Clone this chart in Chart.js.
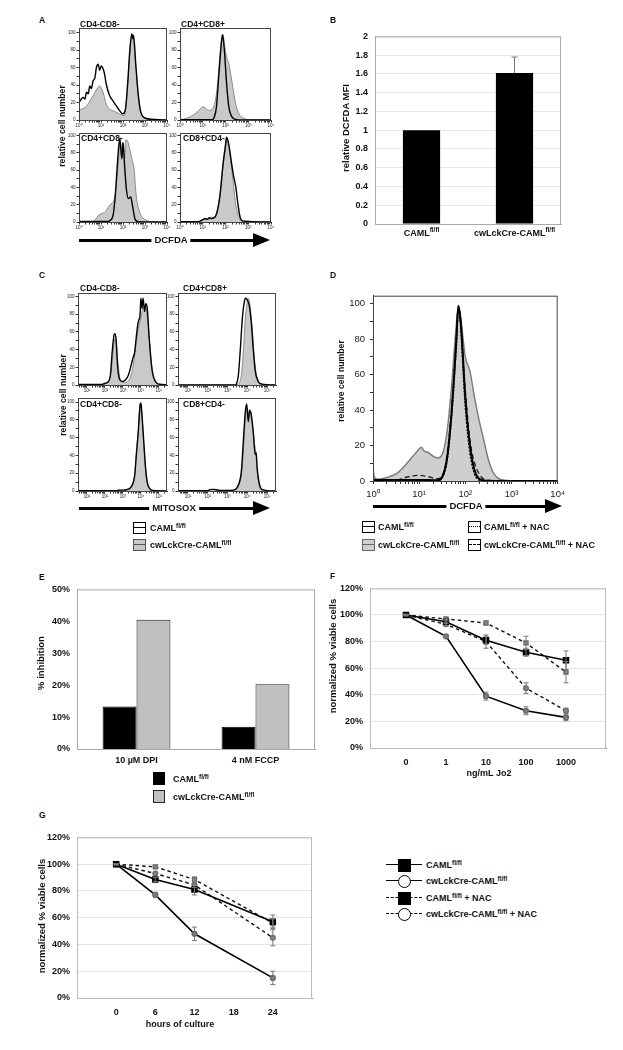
<!DOCTYPE html>
<html>
<head>
<meta charset="utf-8">
<script src="https://cdn.jsdelivr.net/npm/chart.js@4.4.0/dist/chart.umd.min.js"></script>
<style>
html, body { margin: 0; padding: 0; background: #fff; }
body { position: relative; width: 623px; height: 1050px; overflow: hidden; font-family: "Liberation Sans", Arial, sans-serif; }
.lbl { position: absolute; white-space: nowrap; font-weight: bold; line-height: 1; color: #111; }
.lbl sup { font-size: 0.72em; vertical-align: 0; position: relative; top: -0.45em; }
.abs { position: absolute; box-sizing: border-box; }
</style>
</head>
<body>
<script>
const FONT = '"Liberation Sans", Arial, sans-serif';
Chart.defaults.font.family = FONT;
Chart.defaults.color = '#111';
Chart.defaults.plugins.legend.display = false;
Chart.defaults.plugins.tooltip.enabled = false;

// ---- data: histograms, [log10 decade, relative cell number] ----
// A  DCFDA
const aDnWt  = [[0,20],[0.19,26],[0.27,24],[0.34,32],[0.42,30],[0.49,39],[0.56,36],[0.64,45],[0.72,48],[0.79,60],[0.87,64],[0.94,57],[1.01,62],[1.09,59],[1.16,53],[1.24,41],[1.39,28],[1.54,22],[1.69,16.5],[1.84,11],[1.99,7],[2.1,11],[2.21,41],[2.31,80],[2.4,99],[2.45,93],[2.48,97],[2.58,64],[2.69,30],[2.81,9],[3.03,2],[3.48,0.5],[4,0]];
const aDnKo  = [[0,11],[0.34,16],[0.5,22],[0.64,28],[0.87,37.5],[0.94,39],[1.09,32],[1.24,18],[1.39,12.6],[1.61,10],[1.84,7],[2.06,5],[2.13,14.5],[2.21,37.5],[2.31,76],[2.4,97],[2.48,91],[2.55,72],[2.66,37.5],[2.76,14.5],[2.88,5],[3.03,2],[3.33,0.5],[4,0]];
const aDpWt  = [[0,0.3],[1.4,0.3],[1.5,3],[1.6,14.5],[1.7,49],[1.8,83],[1.87,98],[1.95,80],[2.05,41],[2.15,14.5],[2.25,5],[2.4,1],[2.6,0],[4,0]];
const aDpKo  = [[0,0.5],[0.3,2],[0.6,6],[0.8,10],[1.0,15],[1.1,14],[1.25,11],[1.4,12],[1.55,22],[1.65,41],[1.75,72],[1.85,95],[1.9,97],[1.95,87],[2.05,72],[2.15,64],[2.3,41],[2.45,18],[2.6,7],[2.8,2],[3.0,0.5],[4,0]];
const aCd4Wt = [[0,0.5],[1.3,0.5],[1.4,1.5],[1.55,8],[1.65,31],[1.75,69],[1.85,96],[1.95,73],[2.0,92],[2.08,62],[2.15,39],[2.25,27],[2.35,29],[2.45,16],[2.55,3],[2.7,0.4],[4,0]];
const aCd4Ko = [[0,0.5],[0.6,0.5],[0.75,3],[0.9,8],[1.05,10],[1.2,12],[1.35,18],[1.5,22],[1.6,26],[1.7,43],[1.8,73],[1.87,98],[1.93,85],[2.0,92],[2.07,73],[2.12,95],[2.2,94],[2.3,85],[2.4,73],[2.5,62],[2.6,31],[2.75,12],[2.9,5],[3.1,1.5],[3.3,0.4],[4,0]];
const aCd8Wt = [[0,0.3],[0.8,0.3],[1.0,2.5],[1.1,4],[1.2,3],[1.3,5],[1.4,4],[1.6,9],[1.75,29],[1.9,69],[2.0,89],[2.05,98],[2.15,89],[2.25,71],[2.35,54],[2.45,41],[2.55,20],[2.65,5],[2.8,1],[4,0]];
const aCd8Ko = [[0,0.3],[0.8,0.3],[1.0,3],[1.2,3.5],[1.4,4.5],[1.6,10],[1.75,31],[1.9,66],[2.0,85],[2.05,96],[2.15,85],[2.25,66],[2.35,43],[2.45,20],[2.6,5],[2.8,1],[4,0]];
// C  MITOSOX
const cDnWt  = [[0.5,0.5],[1.8,0.5],[2.0,2],[2.15,3],[2.3,11],[2.4,37],[2.5,56],[2.55,58],[2.62,51],[2.7,22],[2.8,7],[2.95,4],[3.15,6],[3.3,11],[3.45,22],[3.55,30],[3.65,37],[3.75,56],[3.85,71],[3.95,79],[4.0,98],[4.05,87],[4.12,98],[4.2,83],[4.27,92],[4.35,87],[4.45,56],[4.55,30],[4.65,13],[4.8,4],[5.0,1],[5.45,0.3]];
const cDnKo  = [[0.5,0.5],[1.9,0.5],[2.0,1],[2.2,5],[2.35,16],[2.45,37],[2.55,52],[2.62,49],[2.7,30],[2.8,11],[2.9,5],[3.0,3],[3.15,3],[3.3,5],[3.45,11],[3.6,26],[3.75,49],[3.9,68],[4.0,75],[4.1,87],[4.2,90],[4.3,85],[4.4,68],[4.5,45],[4.6,22],[4.7,11],[4.85,3],[5.0,1],[5.45,0.3]];
const cDpWt  = [[0.5,0],[3.4,0],[3.45,1],[3.55,11],[3.65,41],[3.75,75],[3.85,94],[3.92,98],[4.0,96],[4.1,90],[4.2,71],[4.3,41],[4.4,16],[4.55,4],[4.75,1],[5.45,0]];
const cDpKo  = [[0.5,0],[3.5,0],[3.55,1],[3.7,11],[3.8,37],[3.9,75],[4.0,94],[4.05,98],[4.15,87],[4.25,64],[4.35,33],[4.45,13],[4.6,3],[4.8,0.3],[5.45,0]];
const cCd4Wt = [[0.5,0.3],[2.6,0.3],[2.8,1],[3.0,1],[3.3,2],[3.5,6],[3.65,17],[3.75,42],[3.85,66],[3.95,96],[4.0,99],[4.05,88],[4.15,58],[4.25,28],[4.35,10],[4.5,2.5],[4.7,0.5],[5.45,0]];
const cCd4Ko = [[0.5,0.3],[2.6,0.3],[2.8,1],[3.0,0.5],[3.3,2],[3.5,7],[3.65,18],[3.75,44],[3.85,67],[3.95,97],[4.0,98],[4.05,86],[4.15,56],[4.25,26],[4.35,9],[4.5,2],[4.7,0.4],[5.45,0]];
const cCd8Wt = [[0.5,0.3],[2.0,0.3],[2.1,1.5],[2.3,1.8],[2.5,1],[2.7,0.5],[3.3,1],[3.55,7],[3.7,22],[3.8,56],[3.9,89],[3.97,98],[4.05,78],[4.12,91],[4.2,86],[4.3,67],[4.4,41],[4.45,43],[4.5,26],[4.6,9],[4.75,1.5],[5.45,0]];
const cCd8Ko = [[0.5,0.3],[2.0,0.3],[2.1,1.5],[2.3,1.8],[2.5,1],[2.7,0.5],[3.3,1],[3.55,5],[3.7,18],[3.8,44],[3.9,82],[4.0,93],[4.07,86],[4.15,89],[4.25,74],[4.35,56],[4.42,44],[4.5,22],[4.6,7],[4.75,1],[5.45,0]];
// D  DCFDA +/- NAC
const dWt    = [[0,0.5],[1.2,0.5],[1.4,0.4],[1.5,2.4],[1.6,12],[1.7,38],[1.8,77],[1.85,98],[1.9,90],[2.0,47],[2.1,20],[2.2,6],[2.3,1.3],[2.45,0.2],[4,0]];
const dKo    = [[0,10],[0.02,3],[0.1,1],[0.3,2],[0.5,4],[0.65,7.5],[0.8,12],[0.9,15],[1.0,18],[1.05,19],[1.1,17],[1.2,16],[1.3,14],[1.4,13],[1.5,15],[1.6,27],[1.7,53],[1.8,87],[1.85,99],[1.9,92],[2.0,70],[2.1,62],[2.2,47],[2.3,34],[2.4,23],[2.5,12],[2.6,5],[2.75,1],[3.0,0.2],[4,0]];
const dWtNac = [[0,0.3],[1.4,0.3],[1.5,2],[1.6,11],[1.7,36],[1.8,75],[1.85,98],[1.9,87],[2.0,42],[2.1,16],[2.2,4],[2.3,0.5],[2.5,0],[4,0]];
const dKoNac = [[0,0.5],[0.5,0.5],[0.7,2],[0.9,3],[1.0,3.2],[1.2,2.4],[1.4,1.3],[1.5,2.8],[1.6,14],[1.7,40],[1.8,79],[1.85,99],[1.9,88],[2.0,51],[2.1,23],[2.2,10],[2.3,4],[2.4,1],[2.6,0.2],[4,0]];

// B
const bCats = ['CAML^fl/fl', 'cwLckCre-CAML^fl/fl'];
const bVals = [1.0, 1.61];
const bErr  = [0, 0.17];
// E
const eCats = ['10 \u00b5M DPI', '4 nM FCCP'];
const eWt = [13.3, 7.0];
const eKo = [40.5, 20.3];
// F
const fCats = ['0', '1', '10', '100', '1000'];
const fWt = [100, 95, 81, 72, 66];        const fWtErr = [0.5, 1.5, 3, 3, 7];
const fKo = [100, 84, 39, 28, 23];        const fKoErr = [0.5, 1, 3, 3, 2.5];
const fWtNac = [100, 97, 94, 79, 57];     const fWtNacErr = [0.5, 1, 1.5, 5, 8];
const fKoNac = [100, 93, 80, 45, 28];     const fKoNacErr = [0.5, 1.5, 5, 4, 2];
// G
const gHours = [0, 6, 12, 24];
const gWt = [100, 88.5, 81, 57];          const gWtErr = [0.5, 1.5, 4, 5];
const gKo = [100, 77, 48, 15];            const gKoErr = [0.5, 2, 5, 5];
const gWtNac = [100, 98, 88.5, 56];       const gWtNacErr = [0.5, 1, 2, 3];
const gKoNac = [100, 93, 84.5, 45];       const gKoNacErr = [0.5, 1, 2, 6];

const SUP = ['\u2070', '\u00b9', '\u00b2', '\u00b3', '\u2074', '\u2075'];

// ---- plugins ----
const framePlugin = {
  id: 'frame',
  afterDraw(chart, args, opts) {
    if (!opts.color) return;
    const a = chart.chartArea, ctx = chart.ctx;
    ctx.save();
    ctx.strokeStyle = opts.color;
    ctx.lineWidth = 1;
    ctx.strokeRect(a.left + 0.5, a.top + 0.5, a.right - a.left - 1, a.bottom - a.top);
    ctx.restore();
  }
};

const errPlugin = {
  id: 'errbars',
  afterDatasetsDraw(chart) {
    const ctx = chart.ctx, ys = chart.scales.y;
    chart.data.datasets.forEach((ds, i) => {
      if (!ds.errors) return;
      const meta = chart.getDatasetMeta(i);
      meta.data.forEach((el, j) => {
        const e = ds.errors[j];
        if (!e) return;
        const raw = ds.data[j];
        const v = typeof raw === 'object' ? raw.y : raw;
        const top = ys.getPixelForValue(v + e);
        const bot = ys.getPixelForValue(ds.errUp ? v : v - e);
        const cap = ds.errCap || 2.5;
        ctx.save();
        ctx.strokeStyle = ds.errColor || '#777';
        ctx.lineWidth = 1;
        ctx.beginPath();
        ctx.moveTo(el.x, top); ctx.lineTo(el.x, bot);
        ctx.moveTo(el.x - cap, top); ctx.lineTo(el.x + cap, top);
        if (!ds.errUp) { ctx.moveTo(el.x - cap, bot); ctx.lineTo(el.x + cap, bot); }
        ctx.stroke();
        ctx.restore();
      });
    });
  }
};

// category labels like CAML^fl/fl with a raised part
const supTicks = {
  id: 'supTicks',
  afterDraw(chart, args, opts) {
    if (!opts.labels) return;
    const ctx = chart.ctx, xs = chart.scales.x;
    const size = opts.size || 9;
    opts.labels.forEach((lab, i) => {
      const parts = lab.split('^');
      const x = xs.getPixelForValue(i);
      ctx.save();
      ctx.fillStyle = '#111';
      ctx.textBaseline = 'alphabetic';
      ctx.font = `bold ${size}px ${FONT}`;
      const wb = ctx.measureText(parts[0]).width;
      ctx.font = `bold ${size * 0.72}px ${FONT}`;
      const ws = parts[1] ? ctx.measureText(parts[1]).width : 0;
      const x0 = x - (wb + ws) / 2;
      const y = chart.chartArea.bottom + opts.offset;
      ctx.font = `bold ${size}px ${FONT}`;
      ctx.fillText(parts[0], x0, y);
      if (parts[1]) {
        ctx.font = `bold ${size * 0.72}px ${FONT}`;
        ctx.fillText(parts[1], x0 + wb, y - size * 0.42);
      }
      ctx.restore();
    });
  }
};

Chart.register(framePlugin, errPlugin, supTicks);

// ---- helpers ----
function makeChart(l, t, r, b, yw, xh, cfg) {
  const pad = 8;
  const W = r - l + yw + pad, H = b - t + xh + pad;
  const c = document.createElement('canvas');
  c.width = W; c.height = H;
  c.style.cssText = `position:absolute;left:${l - yw}px;top:${t - pad}px;width:${W}px;height:${H}px`;
  document.body.appendChild(c);
  const o = cfg.options;
  o.responsive = false;
  o.animation = false;
  o.devicePixelRatio = 1;
  o.layout = { padding: { top: pad, right: pad, left: 0, bottom: 0 } };
  o.scales.x.afterFit = s => { s.height = xh; };
  o.scales.y.afterFit = s => { s.width = yw; };
  return new Chart(c, cfg);
}

function logTicks(min, max) {
  const out = [];
  for (let d = Math.floor(min); d <= Math.ceil(max); d++) {
    for (let k = 1; k <= 9; k++) {
      const v = d + Math.log10(k);
      if (v >= min - 1e-9 && v <= max + 1e-9) out.push(k === 1 ? { value: d, dec: true } : { value: v });
    }
  }
  return out;
}

function histChart(box, xr, ymax, curves, st) {
  const ds = curves.map(cv => ({
    data: cv.pts.map(p => ({ x: p[0], y: p[1] })),
    borderColor: cv.color,
    borderWidth: cv.w,
    borderDash: cv.dash || [],
    backgroundColor: cv.fill || 'transparent',
    fill: cv.fill ? 'origin' : false,
    pointRadius: 0,
    cubicInterpolationMode: 'monotone'
  }));
  const axisFont = { size: st.fs, weight: 'normal' };
  return makeChart(box[0], box[1], box[2], box[3], st.yw, st.xh, {
    type: 'line',
    data: { datasets: ds },
    options: {
      scales: {
        x: {
          type: 'linear', min: xr[0], max: xr[1],
          afterBuildTicks: s => { s.ticks = logTicks(xr[0], xr[1]); },
          ticks: {
            autoSkip: false, maxRotation: 0, padding: st.tp, font: axisFont, color: '#222',
            callback: (v, i, t) => t[i].dec ? '10' + SUP[Math.round(v)] : ''
          },
          grid: { drawOnChartArea: false, tickLength: st.tl, color: '#333' },
          border: { color: '#333' }
        },
        y: {
          min: 0, max: ymax,
          afterBuildTicks: s => { s.ticks = [0, 10, 20, 30, 40, 50, 60, 70, 80, 90, 100].map(v => ({ value: v })); },
          ticks: {
            autoSkip: false, padding: st.tp, font: axisFont, color: '#222',
            callback: v => v % 20 === 0 ? String(v) : ''
          },
          grid: { drawOnChartArea: false, tickLength: st.tl, color: '#333' },
          border: { color: '#333' }
        }
      },
      plugins: { frame: { color: '#444' } }
    }
  });
}

function pair(wt, ko) {
  return [
    { pts: wt, color: '#000', w: 1.4 },
    { pts: ko, color: '#8a8a8a', w: 1, fill: '#c9c9c9' }
  ];
}

function txt(html, x, y, o = {}) {
  const d = document.createElement('div');
  d.className = 'lbl';
  d.innerHTML = html;
  d.style.left = x + 'px';
  d.style.top = y + 'px';
  d.style.fontSize = (o.size || 9) + 'px';
  if (o.weight) d.style.fontWeight = o.weight;
  let tf = o.center ? 'translate(-50%,-50%)' : 'translate(0,-50%)';
  if (o.rot) tf = 'translate(-50%,-50%) rotate(-90deg)';
  if (o.bg) { d.style.background = '#fff'; d.style.padding = '0 3px'; }
  d.style.transform = tf;
  document.body.appendChild(d);
  return d;
}

function el(css) {
  const d = document.createElement('div');
  d.className = 'abs';
  d.style.cssText += css;
  document.body.appendChild(d);
  return d;
}

function arrow(x1, x2, y, label, cx) {
  el(`left:${x1}px;top:${y - 1.5}px;width:${x2 - x1 - 15}px;height:3px;background:#000;`);
  el(`left:${x2 - 17}px;top:${y - 7}px;width:0;height:0;border-left:17px solid #000;border-top:7px solid transparent;border-bottom:7px solid transparent;`);
  txt(label, cx, y, { center: true, bg: true, size: 9.5 });
}

function flowKey(x, y, fill, color, style) {
  const b = el(`left:${x}px;top:${y - 6}px;width:13px;height:12px;border:1px solid ${color};background:${fill};`);
  const m = document.createElement('div');
  m.style.cssText = `position:absolute;left:0;right:0;top:4px;border-top:1.5px ${style} ${color};`;
  b.appendChild(m);
}

// ---- A ----
const stA = { yw: 14, xh: 10, fs: 4.5, tp: 1, tl: 2.5 };
histChart([79, 28, 167, 120], [0, 4], 105.5, pair(aDnWt, aDnKo), stA);
histChart([180, 28, 271, 120], [0, 4], 105.5, pair(aDpWt, aDpKo), stA);
histChart([79, 133, 167, 222], [0, 4], 103, pair(aCd4Wt, aCd4Ko), stA);
histChart([180, 133, 271, 222], [0, 4], 103, pair(aCd8Wt, aCd8Ko), stA);

// ---- C ----
histChart([78, 293, 167, 385], [0.5, 5.45], 104, pair(cDnWt, cDnKo), stA);
histChart([178, 293, 276, 385], [0.5, 5.45], 104, pair(cDpWt, cDpKo), stA);
histChart([78, 398, 167, 491], [0.5, 5.45], 104.6, pair(cCd4Wt, cCd4Ko), stA);
histChart([178, 398, 276, 491], [0.5, 5.45], 104.6, pair(cCd8Wt, cCd8Ko), stA);

// ---- D ----
histChart([373, 293, 562, 481], [0, 4], 104.5, [
  { pts: dWt, color: '#000', w: 2 },
  { pts: dWtNac, color: '#000', w: 1.6, dash: [2, 1.5] },
  { pts: dKoNac, color: '#222', w: 1.4, dash: [5, 3] },
  { pts: dKo, color: '#7a7a7a', w: 1.4, fill: '#cfcfcf' }
], { yw: 30, xh: 22, fs: 9.5, tp: 5, tl: 3 });

// ---- B ----
makeChart(375, 32, 561, 224, 40, 20, {
  type: 'bar',
  data: {
    labels: bCats,
    datasets: [{ data: bVals, backgroundColor: '#000', barPercentage: 0.4, categoryPercentage: 1,
      errors: bErr, errUp: true, errColor: '#777', errCap: 3 }]
  },
  options: {
    scales: {
      x: { ticks: { display: false }, grid: { display: false, drawTicks: false }, border: { color: '#aaa' } },
      y: {
        min: 0, max: 2,
        ticks: { stepSize: 0.2, padding: 7, font: { size: 9, weight: 'bold' }, color: '#111',
          callback: v => String(Math.round(v * 10) / 10) },
        grid: { color: '#e6e6e6', drawTicks: false },
        border: { color: '#aaa' }
      }
    },
    plugins: { frame: { color: '#aaa' }, supTicks: { labels: bCats, offset: 12, size: 9 } }
  }
});

// ---- E ----
makeChart(77, 585, 315, 749, 40, 24, {
  type: 'bar',
  data: {
    labels: eCats,
    datasets: [
      { data: eWt, backgroundColor: '#000', borderColor: '#000', borderWidth: 1, barPercentage: 1, categoryPercentage: 0.57 },
      { data: eKo, backgroundColor: '#c0c0c0', borderColor: '#222', borderWidth: 1, barPercentage: 1, categoryPercentage: 0.57 }
    ]
  },
  options: {
    scales: {
      x: { ticks: { padding: 6, font: { size: 9, weight: 'bold' }, color: '#111' }, grid: { display: false, drawTicks: false }, border: { color: '#999' } },
      y: {
        min: 0, max: 50,
        ticks: { stepSize: 10, padding: 7, font: { size: 9, weight: 'bold' }, color: '#111', callback: v => v + '%' },
        grid: { display: false, drawTicks: false },
        border: { color: '#999' }
      }
    },
    plugins: { frame: { color: '#aaa' } }
  }
});

// ---- F and G line charts ----
function seriesSet(xs, wt, wtE, ko, koE, wtN, wtNE, koN, koNE) {
  const pts = arr => arr.map((v, i) => ({ x: xs[i], y: v }));
  return [
    { data: pts(wt), errors: wtE, borderColor: '#000', borderWidth: 1.6, pointStyle: 'rect', pointRadius: 3.5,
      pointBackgroundColor: '#000', pointBorderColor: '#000' },
    { data: pts(wtN), errors: wtNE, borderColor: '#111', borderWidth: 1.4, borderDash: [3.5, 3], pointStyle: 'rect', pointRadius: 2.8,
      pointBackgroundColor: '#9a9a9a', pointBorderColor: '#666' },
    { data: pts(koN), errors: koNE, borderColor: '#111', borderWidth: 1.4, borderDash: [3.5, 3], pointStyle: 'circle', pointRadius: 2.3,
      pointBackgroundColor: '#9a9a9a', pointBorderColor: '#666' },
    { data: pts(ko), errors: koE, borderColor: '#000', borderWidth: 1.6, pointStyle: 'circle', pointRadius: 2.3,
      pointBackgroundColor: '#8a8a8a', pointBorderColor: '#666' }
  ];
}

function viabilityOptions(xmin, xmax, xticks, label) {
  return {
    scales: {
      x: {
        type: 'linear', min: xmin, max: xmax,
        afterBuildTicks: s => { s.ticks = xticks.map(v => ({ value: v })); },
        ticks: { autoSkip: false, maxRotation: 0, padding: 9, font: { size: 9, weight: 'bold' }, color: '#111', callback: label },
        grid: { display: false, drawTicks: false },
        border: { color: '#888' }
      },
      y: {
        min: 0, max: 120,
        ticks: { stepSize: 20, padding: 7, font: { size: 9, weight: 'bold' }, color: '#111', callback: v => v + '%' },
        grid: { color: '#e4e4e4', drawTicks: false },
        border: { color: '#aaa' }
      }
    },
    plugins: { frame: { color: '#bbb' } }
  };
}

makeChart(370, 584, 606, 748, 40, 24, {
  type: 'line',
  data: { datasets: seriesSet([0, 1, 2, 3, 4], fWt, fWtErr, fKo, fKoErr, fWtNac, fWtNacErr, fKoNac, fKoNacErr) },
  options: viabilityOptions(-0.9, 5, [0, 1, 2, 3, 4], v => fCats[Math.round(v)])
});

makeChart(77, 833, 312, 998, 40, 24, {
  type: 'line',
  data: { datasets: seriesSet(gHours, gWt, gWtErr, gKo, gKoErr, gWtNac, gWtNacErr, gKoNac, gKoNacErr) },
  options: viabilityOptions(-6, 30, [0, 6, 12, 18, 24], v => String(v))
});

// ---- text, arrows, keys ----
const FL = 'CAML<sup>fl/fl</sup>';
const CW = 'cwLckCre-CAML<sup>fl/fl</sup>';

txt('A', 39, 20, { size: 8.5 });
txt('B', 330, 20, { size: 8.5 });
txt('C', 39, 275, { size: 8.5 });
txt('D', 330, 275, { size: 8.5 });
txt('E', 39, 577, { size: 8.5 });
txt('F', 330, 576, { size: 8.5 });
txt('G', 39, 815, { size: 8.5 });

txt('CD4-CD8-', 80, 24, { size: 8.5 });
txt('CD4+CD8+', 181, 24, { size: 8.5 });
txt('CD4+CD8-', 81, 138, { size: 8.5 });
txt('CD8+CD4-', 183, 138, { size: 8.5 });
txt('relative cell number', 62, 126, { rot: true, size: 8.7 });
arrow(79, 270, 240, 'DCFDA', 171);

txt('CD4-CD8-', 80, 288, { size: 8.5 });
txt('CD4+CD8+', 183, 288, { size: 8.5 });
txt('CD4+CD8-', 80, 404, { size: 8.5 });
txt('CD8+CD4-', 183, 404, { size: 8.5 });
txt('relative cell number', 63, 395, { rot: true, size: 8.7 });
arrow(79, 270, 508, 'MITOSOX', 174);
flowKey(133, 528, '#fff', '#000', 'solid');
txt(FL, 150, 528, { size: 9 });
flowKey(133, 545, '#c9c9c9', '#555', 'solid');
txt(CW, 150, 545, { size: 9 });

txt('relative DCFDA MFI', 346, 128, { rot: true, size: 9.5 });

txt('relative cell number', 341, 381, { rot: true, size: 8.7 });
arrow(373, 562, 506, 'DCFDA', 466);
flowKey(362, 527, '#fff', '#000', 'solid');
txt(FL, 378, 527, { size: 9 });
flowKey(362, 545, '#cfcfcf', '#666', 'solid');
txt(CW, 378, 545, { size: 9 });
flowKey(468, 527, '#fff', '#000', 'dotted');
txt(FL + ' + NAC', 484, 527, { size: 9 });
flowKey(468, 545, '#fff', '#000', 'dashed');
txt(CW + ' + NAC', 484, 545, { size: 9 });

txt('% inhibition', 41, 663, { rot: true, size: 9.5 });
el('left:153px;top:772px;width:12px;height:13px;background:#000;');
txt(FL, 173, 779, { size: 9 });
el('left:153px;top:790px;width:12px;height:13px;background:#c0c0c0;border:1px solid #222;');
txt(CW, 173, 797, { size: 9 });

txt('normalized % viable cells', 333, 656, { rot: true, size: 9.5 });
txt('ng/mL Jo2', 489, 773, { center: true, size: 9 });

txt('normalized % viable cells', 42, 916, { rot: true, size: 9.5 });
txt('hours of culture', 180, 1024, { center: true, size: 9 });

// G key
const keys = [
  { y: 865, dash: 'solid', mark: 'sq', label: FL },
  { y: 881, dash: 'solid', mark: 'ci', label: CW },
  { y: 898, dash: 'dashed', mark: 'sq', label: FL + ' + NAC' },
  { y: 914, dash: 'dashed', mark: 'ci', label: CW + ' + NAC' }
];
keys.forEach(k => {
  el(`left:386px;top:${k.y - 1}px;width:36px;height:0;border-top:1.5px ${k.dash} #000;`);
  if (k.mark === 'sq') el(`left:398px;top:${k.y - 6.5}px;width:13px;height:13px;background:#000;`);
  else el(`left:398px;top:${k.y - 6.5}px;width:13px;height:13px;border-radius:50%;background:#fff;border:1.3px solid #000;`);
  txt(k.label, 426, k.y, { size: 9 });
});
</script>
</body>
</html>
